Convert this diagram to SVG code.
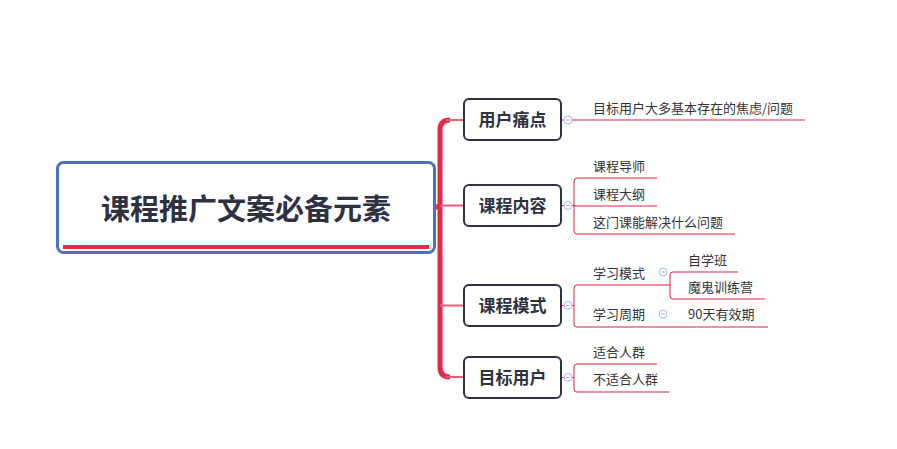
<svg xmlns="http://www.w3.org/2000/svg" width="897" height="449" viewBox="0 0 897 449">
<style>
.node rect{fill:#fff;stroke:#2e3142;stroke-width:2}
.lbl{font-family:"Noto Sans CJK SC","Liberation Sans",sans-serif;font-size:17px;font-weight:bold;fill:#2e3142;text-anchor:middle}
.sub{font-family:"Noto Sans CJK SC","Liberation Sans",sans-serif;font-size:13px;fill:#333}
.ln{fill:none;stroke:#e22148;stroke-width:1}
.br{fill:none;stroke:#ef5c76;stroke-width:2}
.tr{fill:none;stroke:#e5294c;stroke-width:5}
.cb circle{fill:#fff;stroke:#a9b9e3;stroke-width:1}
.cb line{stroke:#a9b9e3;stroke-width:1}
</style>
<rect width="897" height="449" fill="#fff"/>
<g id="connectors">
<path class="tr" d="M450 120 Q440 120 440 130 V367 Q440 377 450 377"/>
<path class="tr" d="M434 207 H437 Q440 207 440 204"/>
<path class="br" d="M446 120 H463 M440 207 Q440 205.5 446 205.5 H463 M440 305.5 H463 M446 377 H463"/>
<path class="ln" d="M561 120 H564 M572 120 H805"/>
<path class="ln" d="M561 205.5 H564 M572 205.5 H574 M657 178 H577 Q574 178 574 181 V231 Q574 234 577 234 H735 M574 206 H657"/>
<path class="ln" d="M561 305.5 H564 M572 305.5 H574 M670 285 H577 Q574 285 574 288 V324 Q574 327 577 327 H768"/>
<path class="ln" d="M738 272 H673 Q670 272 670 275 V296 Q670 299 673 299 H765"/>
<path class="ln" d="M561 377.5 H564 M572 377.5 H574 M657 364 H577 Q574 364 574 367 V389 Q574 392 577 392 H669"/>
</g>
<g id="root">
<rect x="57.5" y="162.5" width="377" height="90" rx="6" fill="#fff" stroke="#4e71be" stroke-width="3"/>
<rect x="63" y="245" width="366" height="4" fill="#e5294c"/>
<text x="246" y="220" font-family="'Noto Sans CJK SC','Liberation Sans',sans-serif" font-size="29" font-weight="bold" fill="#2e3142" text-anchor="middle">课程推广文案必备元素</text>
</g>
<g id="n1" class="node"><rect x="464" y="99" width="97" height="41" rx="5"/><text class="lbl" x="512.5" y="126">用户痛点</text></g>
<g id="n2" class="node"><rect x="464" y="185" width="97" height="41" rx="5"/><text class="lbl" x="512.5" y="212">课程内容</text></g>
<g id="n3" class="node"><rect x="464" y="285" width="97" height="41" rx="5"/><text class="lbl" x="512.5" y="312">课程模式</text></g>
<g id="n4" class="node"><rect x="464" y="357" width="97" height="41" rx="5"/><text class="lbl" x="512.5" y="384">目标用户</text></g>
<g id="collapse" class="cb">
<circle cx="568" cy="120" r="4"/><line x1="566" y1="120" x2="570" y2="120"/>
<circle cx="568" cy="205.5" r="4"/><line x1="566" y1="205.5" x2="570" y2="205.5"/>
<circle cx="568" cy="305.5" r="4"/><line x1="566" y1="305.5" x2="570" y2="305.5"/>
<circle cx="568" cy="377.5" r="4"/><line x1="566" y1="377.5" x2="570" y2="377.5"/>
<circle cx="663" cy="272" r="4"/><line x1="661" y1="272" x2="665" y2="272"/>
<circle cx="663" cy="314" r="4"/><line x1="661" y1="314" x2="665" y2="314"/>
</g>
<g id="s1"><text class="sub" x="593" y="113">目标用户大多基本存在的焦虑/问题</text></g>
<g id="s2"><text class="sub" x="593" y="171">课程导师</text></g>
<g id="s3"><text class="sub" x="593" y="199">课程大纲</text></g>
<g id="s4"><text class="sub" x="593" y="227">这门课能解决什么问题</text></g>
<g id="s5"><text class="sub" x="593" y="278">学习模式</text></g>
<g id="s6"><text class="sub" x="593" y="319">学习周期</text></g>
<g id="s7"><text class="sub" x="688" y="265">自学班</text></g>
<g id="s8"><text class="sub" x="688" y="292">魔鬼训练营</text></g>
<g id="s9"><text class="sub" x="688" y="319">90天有效期</text></g>
<g id="s10"><text class="sub" x="593" y="357">适合人群</text></g>
<g id="s11"><text class="sub" x="593" y="384">不适合人群</text></g>
</svg>
